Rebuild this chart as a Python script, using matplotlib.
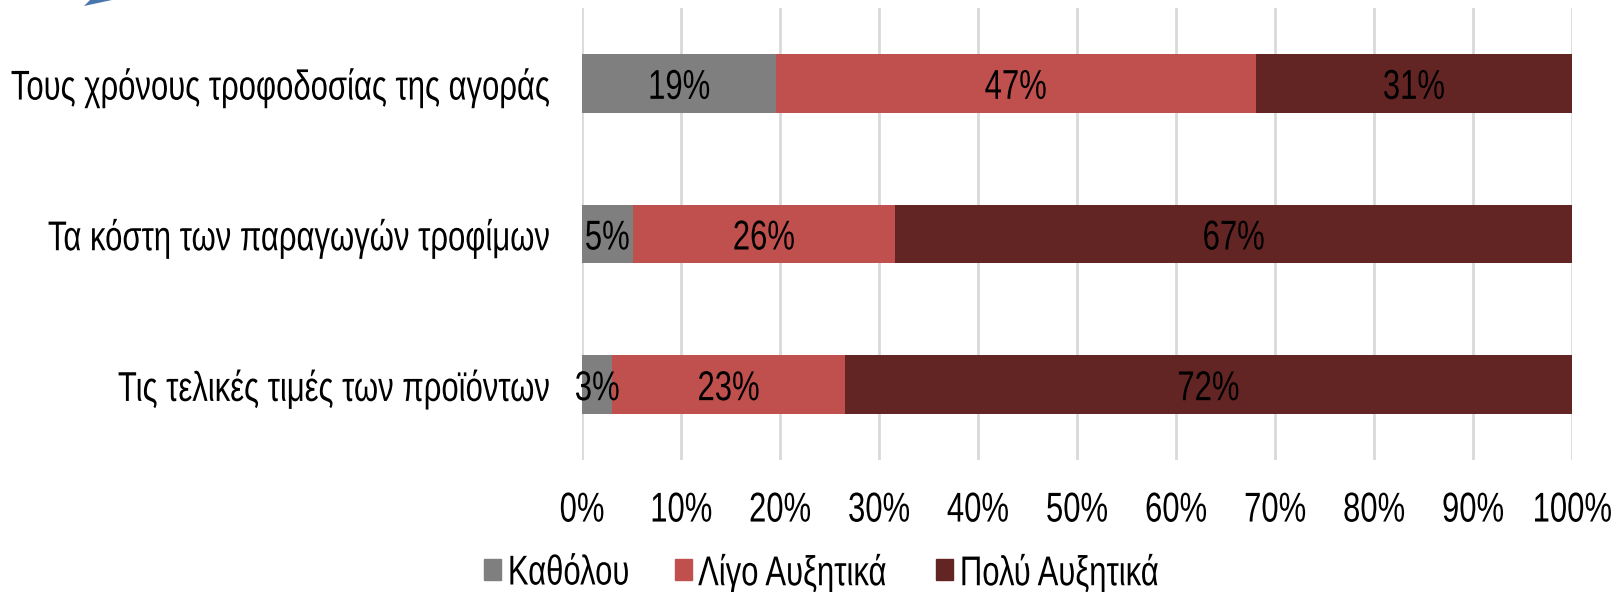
import matplotlib
matplotlib.use("Agg")
import matplotlib.pyplot as plt
import numpy as np
from matplotlib.patches import Rectangle, Polygon
from matplotlib.patheffects import AbstractPathEffect
from matplotlib.transforms import Affine2D

# data, top row first
questions = [
    "Τους χρόνους τροφοδοσίας της αγοράς",
    "Τα κόστη των παραγωγών τροφίμων",
    "Τις τελικές τιμές των προϊόντων",
]
series_names = ["Καθόλου", "Λίγο Αυξητικά", "Πολύ Αυξητικά"]
katholou = [19, 5, 3]
ligo = [47, 26, 23]
poly = [31, 67, 72]
colors = ["#7f7f7f", "#c0504d", "#632523"]

plt.rcParams["font.family"] = ["Liberation Sans", "DejaVu Sans"]
FS = 30
SQ = 0.745  # the source font is a squeezed arial


class Squeeze(AbstractPathEffect):
    # draws the text narrower, around the given anchor
    def __init__(self, sx, anchor="center"):
        super().__init__()
        self.sx = sx
        self.anchor = anchor

    def draw_path(self, renderer, gc, tpath, affine, rgbFace=None):
        ext = affine.transform_path(tpath).get_extents()
        if self.anchor == "right":
            cx = ext.x1
        elif self.anchor == "left":
            cx = ext.x0
        else:
            cx = (ext.x0 + ext.x1) / 2
        aff = affine + Affine2D().translate(-cx, 0).scale(self.sx, 1).translate(cx, 0)
        renderer.draw_path(gc, tpath, aff, rgbFace)


vals = np.array([katholou, ligo, poly], dtype=float)
shares = vals / vals.sum(axis=0) * 100

W, H = 1621, 592
fig = plt.figure(figsize=(W / 100, H / 100), dpi=100)
ax = fig.add_axes([582 / W, 1 - 460 / H, 990 / W, 452 / H])

y = np.arange(len(questions))
left = np.zeros(len(questions))
for i, name in enumerate(series_names):
    ax.barh(y, shares[i], left=left, height=0.39, color=colors[i], zorder=3)
    for j in range(len(questions)):
        ax.text(left[j] + shares[i][j] / 2, y[j], f"{int(vals[i][j])}%",
                ha="center", va="center_baseline", fontsize=FS, color="black",
                zorder=4, path_effects=[Squeeze(SQ, "center")])
    left += shares[i]

ax.set_xlim(0, 100)
ax.set_ylim(len(questions) - 0.5, -0.5)
ax.set_xticks(np.arange(0, 101, 10))
ax.set_xticklabels([f"{t}%" for t in range(0, 101, 10)], fontsize=FS)
ax.set_yticks(y)
ax.set_yticklabels(questions, fontsize=FS)
ax.tick_params(axis="both", length=0)
ax.tick_params(axis="x", pad=22)
ax.tick_params(axis="y", pad=24)
for t in ax.get_xticklabels():
    t.set_path_effects([Squeeze(SQ, "center")])
for t in ax.get_yticklabels():
    t.set_path_effects([Squeeze(SQ, "right")])
ax.grid(axis="x", color="#d9d9d9", linewidth=2, zorder=0)
for s in ax.spines.values():
    s.set_visible(False)

# legend, laid out by hand because the text is squeezed
leg_left = [484, 675, 936]
for name, c, lx in zip(series_names, colors, leg_left):
    fig.add_artist(Rectangle((lx / W, 1 - 580 / H), 17 / W, 21 / H,
                             transform=fig.transFigure, color=c))
    fig.text((lx + 23) / W, 1 - 569 / H, name, fontsize=FS, ha="left",
             va="center_baseline", path_effects=[Squeeze(SQ, "left")])

# bit of a cropped logo in the top left corner
fig.add_artist(Polygon([(84 / W, 1 - 6 / H), (112 / W, 1), (90 / W, 1)],
                       closed=True, transform=fig.transFigure,
                       color="#4a76b0", lw=0))

fig.savefig("out.png", dpi=100)
